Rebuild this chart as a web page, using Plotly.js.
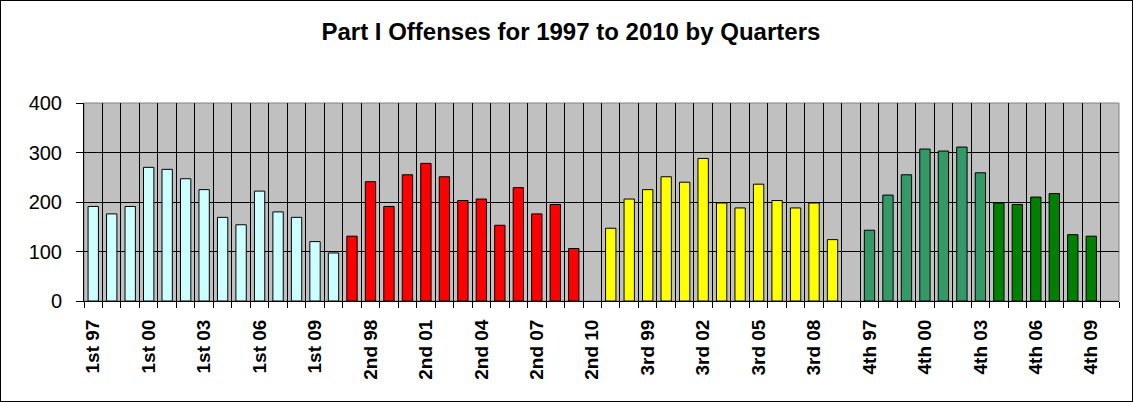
<!DOCTYPE html>
<html>
<head>
<meta charset="utf-8">
<script src="https://cdn.plot.ly/plotly-3.0.1.min.js"></script>
<style>
  html, body { margin: 0; padding: 0; background: #fff; }
  #chart { width: 1133px; height: 402px; box-sizing: border-box; border: 1px solid #000; }
</style>
</head>
<body>
<div id="chart"></div>
<script>
// ---- data ----
var years = ['97','98','99','00','01','02','03','04','05','06','07','08','09','10'];
var quarterNames = ['1st','2nd','3rd','4th'];
var q1 = [191, 176, 191, 270, 266, 247, 225, 169, 154, 222, 180, 169, 120, 97];
var q2 = [131, 241, 191, 255, 278, 251, 203, 206, 153, 229, 176, 195, 106, null];
var q3 = [147, 206, 225, 251, 240, 288, 198, 188, 236, 203, 188, 198, 124, null];
var q4 = [143, 214, 255, 307, 303, 311, 259, 198, 195, 210, 217, 134, 131, null];

// ---- build ----
var series = [q1, q2, q3, q4];
var categories = [];
var values = [];
var colors = [];
var palette = ['#CCFFFF', '#FF0000', '#FFFF00', '#339966'];
series.forEach(function (s, qi) {
  years.forEach(function (y, yi) {
    categories.push(quarterNames[qi] + ' ' + y);
    values.push(s[yi]);
    var c = palette[qi];
    if (qi === 3 && yi >= 7) c = '#008000';
    colors.push(c);
  });
});

var trace = {
  type: 'bar',
  x: categories,
  y: values,
  marker: { color: colors, line: { color: '#000', width: 1 } },
  hoverinfo: 'x+y'
};

var FONT = 'Liberation Sans, Arial, sans-serif';

var layout = {
  width: 1133,
  height: 402,
  margin: { l: 83, r: 15, t: 102, b: 102 },
  paper_bgcolor: 'rgba(0,0,0,0)',
  plot_bgcolor: '#C0C0C0',
  font: { family: FONT, color: '#000' },
  title: {
    text: '<b>Part I Offenses for 1997 to 2010 by Quarters</b>',
    font: { size: 24, family: FONT, color: '#000' },
    x: 0.503, xanchor: 'center', y: 0.925, yanchor: 'middle'
  },
  bargap: 0.44,
  showlegend: false,
  xaxis: {
    type: 'category',
    tickmode: 'linear',
    tick0: 0,
    dtick: 1,
    tickson: 'boundaries',
    ticklabelstep: 3,
    tickangle: -90,
    ticks: 'outside',
    ticklen: 6,
    tickcolor: '#000',
    ticklabelstandoff: 10,
    tickfont: { size: 19, family: FONT, color: '#000', weight: 'bold' },
    showgrid: true,
    gridcolor: '#000',
    gridwidth: 1,
    showline: true,
    linecolor: '#000',
    linewidth: 1,
    range: [-0.5, categories.length - 0.5],
    fixedrange: true
  },
  yaxis: {
    range: [0, 400],
    dtick: 100,
    ticks: 'outside',
    ticklen: 7,
    tickcolor: '#000',
    ticklabelstandoff: 10,
    tickfont: { size: 20, family: FONT, color: '#000' },
    showgrid: true,
    gridcolor: '#000',
    gridwidth: 1,
    showline: true,
    linecolor: '#000',
    linewidth: 1,
    zeroline: false,
    fixedrange: true
  },
  shapes: [{
    type: 'rect', xref: 'paper', yref: 'paper', x0: 0, x1: 1, y0: 0, y1: 1,
    line: { color: '#808080', width: 1 }, layer: 'below'
  }]
};

Plotly.newPlot('chart', [trace], layout, { displayModeBar: false, staticPlot: true });
</script>
</body>
</html>
